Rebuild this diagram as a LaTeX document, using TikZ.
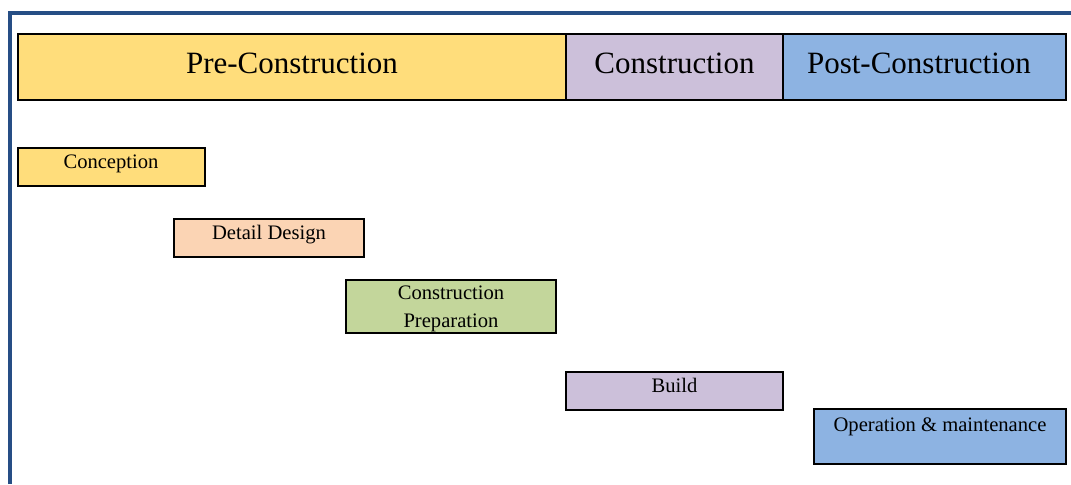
\documentclass[tikz,border=0pt]{standalone}
\usepackage{fontspec}
\setmainfont{Liberation Serif}
\definecolor{frameblue}{RGB}{38,78,133}
\definecolor{cyellow}{RGB}{255,221,123}
\definecolor{cpeach}{RGB}{251,212,180}
\definecolor{cgreen}{RGB}{195,214,155}
\definecolor{cpurple}{RGB}{204,192,218}
\definecolor{cblue}{RGB}{141,179,226}
\tikzset{
  phase/.style={draw=black, line width=1pt, inner sep=0pt},
  phasetext/.style={font=\fontsize{15.5}{18}\selectfont, inner sep=0pt},
  task/.style={draw=black, line width=1pt, inner sep=0pt},
  tasktext/.style={font=\fontsize{10.3}{14}\selectfont, inner sep=0pt, align=center, anchor=north},
}
\begin{document}
\begin{tikzpicture}[x=0.5pt,y=-0.5pt]
\useasboundingbox (0,0) rectangle (1071,484);
% frame
\coordinate (fa) at (10,484);
\coordinate (fb) at (10,13);
\coordinate (fc) at (1071,13);
\draw[frameblue, line width=2pt] (fa) -- (fb) -- (fc);
% phases
\node[phase, fill=cyellow, minimum width=274pt, minimum height=33pt] (pre) at (292,67) {};
\node[phasetext] (pret) at (292,63) {Pre-Construction};
\node[phase, fill=cpurple, minimum width=108.5pt, minimum height=33pt] (con) at (674.5,67) {};
\node[phasetext] (cont) at (674.5,63) {Construction};
\node[phase, fill=cblue, minimum width=141.5pt, minimum height=33pt] (post) at (924.5,67) {};
\node[phasetext] (postt) at (919,63) {Post-Construction};
% tasks
\node[task, fill=cyellow, minimum width=93.5pt, minimum height=19pt] (conc) at (111.5,167) {};
\node[tasktext] (conct) at (111,154) {Conception};
\node[task, fill=cpeach, minimum width=95pt, minimum height=19pt] (det) at (269,238) {};
\node[tasktext] (dett) at (269,225) {Detail Design};
\node[task, fill=cgreen, minimum width=105pt, minimum height=26.5pt] (prep) at (451,306.5) {};
\node[tasktext] (prept) at (451,285.5) {Construction\\Preparation};
\node[task, fill=cpurple, minimum width=108.5pt, minimum height=19pt] (build) at (674.5,391) {};
\node[tasktext] (buildt) at (674.5,378) {Build};
\node[task, fill=cblue, minimum width=126pt, minimum height=27.5pt] (op) at (940,436.5) {};
\node[tasktext] (opt) at (940,417.5) {Operation \& maintenance};
\end{tikzpicture}
\end{document}
